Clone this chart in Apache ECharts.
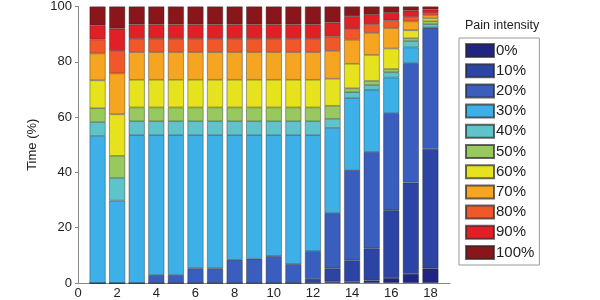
<!DOCTYPE html>
<html>
<head>
<meta charset="utf-8">
<script src="https://cdn.jsdelivr.net/npm/echarts@6/dist/echarts.min.js"></script>
<style>html,body{margin:0;padding:0;background:#fff}#c{width:600px;height:300px}</style>
</head>
<body>
<div id="c"></div>
<script>
const xCats = ['0','1','2','3','4','5','6','7','8','9','10','11','12','13','14','15','16','17','18','19'];
const levels = ['0%','10%','20%','30%','40%','50%','60%','70%','80%','90%','100%'];
const colors = ['#1f2580','#2c45a4','#3a5ebd','#3db1e7','#5fc4c9','#98c95f','#e6e21e','#f6a521','#f0582a','#e11f27','#89161b'];
const xTicks = ['0','2','4','6','8','10','12','14','16','18'];

// values for bars at x = 1..18
const p0   = [0,0,0,0,0,0,0,0,0,0,0,0,0.6,0.5,0.9,1.8,3.3,5.3];
const p10  = [0,0,0,0,0,0,0,0,0,0,0,1.5,4.7,7.7,11.6,24.5,33.0,43.2];
const p20  = [0,0,0,2.9,2.9,5.3,5.3,8.4,8.8,9.7,6.8,10.0,19.9,32.7,34.9,35.1,43.2,43.7];
const p30  = [53.2,29.8,53.5,50.6,50.6,48.2,48.2,45.1,44.7,43.8,46.7,42.0,30.9,26.0,22.5,12.9,5.7,0.2];
const p40  = [5.0,8.2,5.0,5.0,5.0,5.0,5.0,5.0,5.0,5.0,5.0,5.0,3.3,2.1,1.7,1.9,2.3,1.2];
const p50  = [5.0,8.0,5.0,5.0,5.0,5.0,5.0,5.0,5.0,5.0,5.0,5.0,4.7,1.4,1.5,1.2,1.0,1.1];
const p60  = [10.1,15.0,10.0,10.0,10.0,10.0,10.0,10.0,10.0,10.0,10.0,10.0,9.8,8.9,9.4,7.4,2.9,1.0];
const p70  = [9.7,14.8,10.0,10.0,10.0,10.0,10.0,10.0,10.0,10.0,10.0,10.0,10.1,8.7,8.0,7.4,3.2,1.1];
const p80  = [5.1,8.1,4.8,4.8,4.8,4.8,4.8,4.8,4.8,4.8,4.8,4.8,5.1,3.8,3.1,2.8,1.6,0.8];
const p90  = [5.1,8.1,5.2,5.2,5.2,5.2,5.2,5.2,5.2,5.2,5.2,5.2,5.1,4.7,3.4,2.7,2.3,1.3];
const p100 = [6.8,8.0,6.5,6.5,6.5,6.5,6.5,6.5,6.5,6.5,6.5,6.5,5.8,3.5,3.0,2.3,1.5,1.1];

const seriesVals = [p0,p10,p20,p30,p40,p50,p60,p70,p80,p90,p100];
const font = '"Liberation Sans", Arial, Helvetica, sans-serif';

const chart = echarts.init(document.getElementById('c'), null, {renderer:'canvas'});
chart.setOption({
  animation: false,
  textStyle: {fontFamily: font},
  title: {
    text: 'Pain intensity', left: 460, top: 14,
    textStyle: {fontSize: 12.5, fontWeight: 'normal', color: '#222', fontFamily: font}
  },
  legend: {
    orient: 'vertical', left: 459, top: 38,
    padding: [5, 5, 5, 6],
    icon: 'rect',
    itemWidth: 28, itemHeight: 13, itemGap: 5.2,
    borderColor: '#999', borderWidth: 1,
    textStyle: {fontSize: 15, color: '#222', fontFamily: font, padding: [0,0,0,-3]},
    data: levels
  },
  grid: {left: 78, top: 5, width: 372, height: 286, containLabel: false},
  xAxis: {
    type: 'category', data: xCats, boundaryGap: false,
    axisLine: {show: true, lineStyle: {color: '#888', width: 1}},
    axisTick: {show: false},
    splitLine: {show: false},
    axisLabel: {
      fontSize: 13, color: '#222', margin: 4,
      interval: (idx, val) => xTicks.indexOf(val) >= 0
    }
  },
  yAxis: {
    type: 'value', min: 0, max: 100, interval: 20,
    name: 'Time (%)', nameLocation: 'middle', nameGap: 34,
    nameTextStyle: {fontSize: 13, color: '#222', fontFamily: font},
    axisLine: {show: true, lineStyle: {color: '#888', width: 1}},
    axisTick: {show: true, length: 3, lineStyle: {color: '#888'}},
    splitLine: {show: false},
    axisLabel: {fontSize: 13, color: '#222', margin: 6}
  },
  series: levels.map((name, i) => ({
    name: name,
    type: 'bar',
    stack: 'total',
    barWidth: 16,
    itemStyle: {color: colors[i], borderColor: 'rgba(40,40,40,0.7)', borderWidth: 0.6},
    data: [null].concat(seriesVals[i], [null])
  }))
});
</script>
</body>
</html>
